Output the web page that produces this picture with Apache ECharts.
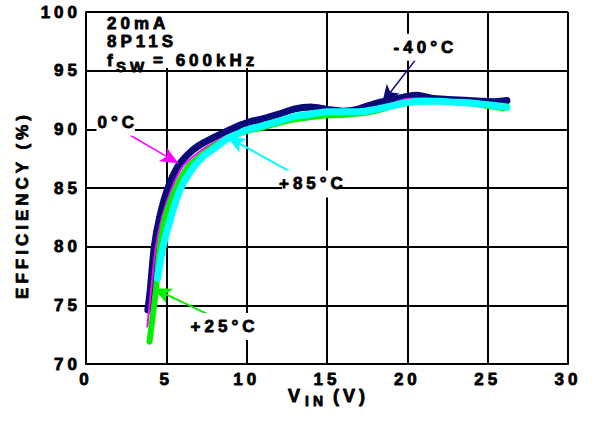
<!DOCTYPE html>
<html>
<head>
<meta charset="utf-8">
<script src="https://cdn.jsdelivr.net/npm/echarts@6/dist/echarts.min.js"></script>
<style>
  html, body { margin: 0; padding: 0; background: #fff; }
  #chart { width: 595px; height: 421px; }
  /* heavy, widely tracked lettering used on the datasheet plot */
  #chart text { letter-spacing: 4px; stroke: #000; stroke-width: 0.8px; stroke-linejoin: round; }
</style>
</head>
<body>
<div id="chart"></div>
<script>
// Axis ticks
const vinTicks = [0, 5, 10, 15, 20, 25, 30];
const effTicks = [70, 75, 80, 85, 90, 95, 100];

// Efficiency (%) vs input voltage (V), 20mA load, fSW = 600kHz
const effMinus40 = [
  [3.85, 74.6], [4.0, 76.3], [4.25, 80.0], [4.6, 82.6], [5.1, 85.0], [5.7, 86.8],
  [6.3, 87.8], [7.0, 88.6], [8.1, 89.4], [9.0, 90.0], [10.0, 90.55], [11.0, 90.9],
  [12.0, 91.3], [13.0, 91.75], [14.0, 91.9], [15.0, 91.7], [16.0, 91.55], [17.0, 91.75],
  [18.0, 92.2], [19.0, 92.5], [20.0, 92.8], [20.6, 92.9], [21.5, 92.65], [22.5, 92.55],
  [24.6, 92.4], [25.5, 92.35], [26.2, 92.45]
];
const eff0 = [
  [3.82, 73.2], [4.05, 76.3], [4.35, 80.0], [4.75, 82.6], [5.35, 85.0], [6.0, 86.8],
  [6.7, 87.7], [7.5, 88.5], [8.6, 89.3], [10.0, 90.1], [11.0, 90.5], [12.0, 90.85],
  [13.0, 91.1], [14.0, 91.25], [15.0, 91.2], [16.0, 91.1], [17.0, 91.3], [18.0, 91.7],
  [19.0, 92.2], [20.0, 92.6], [21.0, 92.65], [22.0, 92.5], [23.0, 92.4], [24.0, 92.2],
  [25.0, 92.0], [26.0, 91.85]
];
const eff25 = [
  [3.95, 71.9], [4.1, 73.5], [4.35, 76.3], [4.6, 80.0], [4.95, 82.6], [5.6, 85.0],
  [6.35, 86.8], [7.1, 87.7], [8.0, 88.6], [9.0, 89.3], [10.0, 89.85], [11.0, 90.15],
  [12.0, 90.55], [13.0, 90.85], [14.0, 91.05], [15.0, 91.2], [16.0, 91.25], [17.0, 91.35],
  [18.0, 91.55], [19.0, 91.95], [20.0, 92.25], [21.0, 92.4], [22.0, 92.4], [23.0, 92.3],
  [24.0, 92.2], [25.0, 92.0], [26.0, 91.8]
];
const eff85 = [
  [4.45, 77.3], [4.8, 80.0], [5.3, 82.6], [5.9, 85.0], [6.7, 86.8], [7.3, 87.7],
  [8.0, 88.4], [8.8, 89.2], [9.5, 89.65], [10.0, 89.95], [11.0, 90.3], [12.0, 90.7],
  [13.0, 91.1], [14.0, 91.3], [15.0, 91.5], [16.0, 91.5], [17.0, 91.5], [18.0, 91.7],
  [19.0, 92.0], [20.0, 92.3], [21.0, 92.4], [22.0, 92.4], [23.0, 92.3], [24.0, 92.25],
  [25.0, 92.1], [26.2, 91.9]
];

const FONT = 'Liberation Sans';
const NAVY = '#0a0a78', MAGENTA = '#ff00ff', GREEN = '#00f000', CYAN = '#00ffff';

// A temperature tag (white box) with a callout arrow pointing at its curve
function callout(text, color, labelAt, from, to, arrowWidth) {
  return {
    markLine: {
      silent: true, animation: false,
      symbol: ['none', 'arrow'], symbolSize: [12, 18],
      label: { show: false },
      lineStyle: { color: color, width: arrowWidth, type: 'solid' },
      emphasis: { disabled: true },
      data: [[{ coord: from }, { coord: to }]]
    },
    markPoint: {
      silent: true, animation: false,
      symbol: 'circle', symbolSize: 1,
      itemStyle: { color: 'rgba(0,0,0,0)' },
      label: {
        show: true, position: 'inside', formatter: text,
        color: '#000', fontFamily: FONT, fontWeight: 'bold', fontSize: 17,
        backgroundColor: '#fff', padding: [5, 3, 5, 7]
      },
      data: [{ coord: labelAt }]
    }
  };
}

function curve(name, data, color, width, z, note) {
  return Object.assign({
    type: 'line', name: name, data: data, z: z,
    smooth: 0.25,
    showSymbol: false, symbol: 'none', silent: true, animation: false,
    lineStyle: { color: color, width: width, cap: 'round', join: 'round' }
  }, note);
}

function label(text, x, y, size, extra) {
  return Object.assign({
    type: 'text', z: 101, x: x, y: y,
    style: { text: text, font: 'bold ' + size + 'px ' + FONT, fill: '#000', align: 'left', verticalAlign: 'middle' }
  }, extra);
}

const chart = echarts.init(document.getElementById('chart'), null, { renderer: 'svg' });

const axisText = { color: '#000', fontFamily: FONT, fontWeight: 'bold', fontSize: 17 };
const blackLine = { color: '#000', width: 2 };

chart.setOption({
  backgroundColor: '#fff',
  animation: false,
  textStyle: { fontFamily: FONT, fontWeight: 'bold' },
  grid: { left: 86, top: 12, right: 27, bottom: 57, containLabel: false, outerBoundsMode: 'none' },
  xAxis: {
    type: 'value', min: vinTicks[0], max: vinTicks[vinTicks.length - 1], interval: 5,
    axisLine: { show: true, lineStyle: blackLine },
    axisTick: { show: false },
    splitLine: { show: true, lineStyle: blackLine },
    axisLabel: Object.assign({ margin: 7, formatter: v => vinTicks.includes(v) ? String(v) : '' }, axisText)
  },
  yAxis: {
    type: 'value', min: effTicks[0], max: effTicks[effTicks.length - 1], interval: 5,
    axisLine: { show: true, lineStyle: blackLine },
    axisTick: { show: false },
    splitLine: { show: true, lineStyle: blackLine },
    axisLabel: Object.assign({ margin: 5, formatter: v => effTicks.includes(v) ? String(v) : '' }, axisText)
  },
  series: [
    curve('-40°C', effMinus40, NAVY, 7, 2,
      callout('-40°C', NAVY, [21.0, 97.0], [20.72, 96.3], [18.43, 92.25], 1.5)),
    curve('0°C', eff0, MAGENTA, 2, 3,
      callout('0°C', MAGENTA, [1.85, 90.6], [2.25, 89.9], [5.75, 87.1], 1.5)),
    curve('+25°C', eff25, GREEN, 6, 4,
      callout('+25°C', GREEN, [8.5, 73.2], [7.73, 74.15], [4.2, 76.45], 2)),
    curve('+85°C', eff85, CYAN, 7, 5,
      callout('+85°C', CYAN, [14.0, 85.35], [12.7, 86.4], [8.8, 89.35], 2))
  ],
  graphic: [
    // conditions block in the upper-left corner
    { type: 'rect', z: 100, shape: { x: 88, y: 13, width: 175, height: 55 }, style: { fill: '#fff' } },
    label('20mA', 107, 23, 17),
    label('8P11S', 107, 41, 17),
    label('f', 107, 60, 17),
    label('SW', 116, 66, 15),
    label('= 600kHz', 153, 60, 17),
    // axis titles
    label('EFFICIENCY (%)', 22, 205, 17, { rotation: Math.PI / 2, style: {
      text: 'EFFICIENCY (%)', font: 'bold 17px ' + FONT, fill: '#000', align: 'center', verticalAlign: 'middle' } }),
    label('V', 288, 396, 18),
    label('IN', 305, 401, 14),
    label('(V)', 333, 396, 18)
  ]
});
</script>
</body>
</html>
